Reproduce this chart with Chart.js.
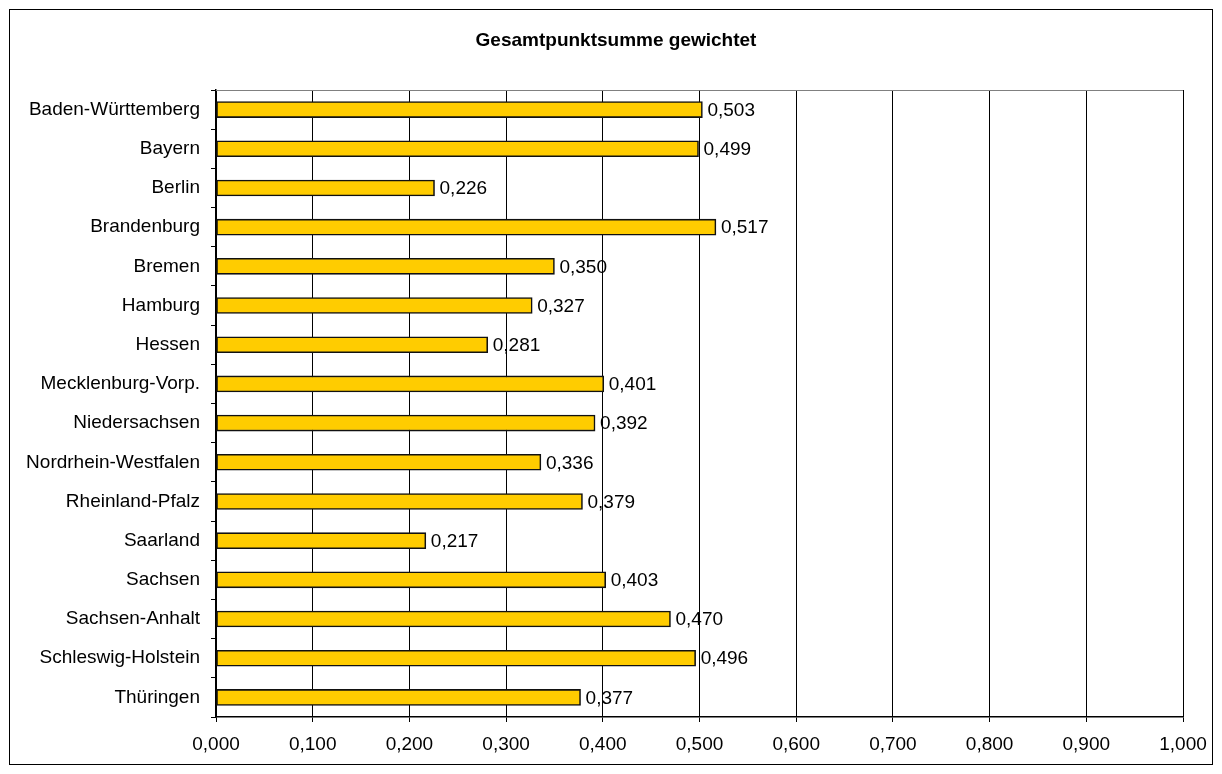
<!DOCTYPE html>
<html>
<head>
<meta charset="utf-8">
<script src="https://cdn.jsdelivr.net/npm/chart.js@4.4.0/dist/chart.umd.min.js"></script>
<style>
    body { margin: 0; background: #fff; }
    canvas { display: block; }
</style>
</head>
<body>
<canvas id="chart" width="1222" height="774"></canvas>
<script>
const chartTitle = 'Gesamtpunktsumme gewichtet';
const states = [
    'Baden-Württemberg', 'Bayern', 'Berlin', 'Brandenburg', 'Bremen', 'Hamburg',
    'Hessen', 'Mecklenburg-Vorp.', 'Niedersachsen', 'Nordrhein-Westfalen',
    'Rheinland-Pfalz', 'Saarland', 'Sachsen', 'Sachsen-Anhalt', 'Schleswig-Holstein', 'Thüringen'
];
const scores = [0.503, 0.499, 0.226, 0.517, 0.350, 0.327, 0.281, 0.401, 0.392, 0.336, 0.379, 0.217, 0.403, 0.470, 0.496, 0.377];
const axisMin = 0;
const axisMax = 1;
const axisStep = 0.1;

const FONT = 'Liberation Sans, Arial, sans-serif';

function fmt(v) {
    return v.toFixed(3).replace('.', ',');
}

// white page, outer frame, title, grey top edge of plot area, value labels
const framePlugin = {
    id: 'frame',
    beforeDraw(chart) {
        const ctx = chart.ctx;
        ctx.save();
        ctx.fillStyle = '#fff';
        ctx.fillRect(0, 0, chart.width, chart.height);
        ctx.strokeStyle = '#000';
        ctx.lineWidth = 1;
        ctx.strokeRect(9.5, 9.5, chart.width - 19, chart.height - 19);
        // title centred on the frame
        ctx.font = 'bold 19px ' + FONT;
        ctx.fillStyle = '#000';
        ctx.textAlign = 'center';
        ctx.textBaseline = 'middle';
        ctx.fillText(chartTitle, 616, 41);
        ctx.restore();
    },
    beforeDatasetsDraw(chart) {
        const ctx = chart.ctx;
        const a = chart.chartArea;
        ctx.save();
        ctx.strokeStyle = '#808080';
        ctx.lineWidth = 1;
        ctx.beginPath();
        ctx.moveTo(a.left, a.top + 0.5);
        ctx.lineTo(a.right, a.top + 0.5);
        ctx.stroke();
        ctx.restore();
    },
    afterDatasetsDraw(chart) {
        const ctx = chart.ctx;
        const meta = chart.getDatasetMeta(0);
        ctx.save();
        ctx.font = '19px ' + FONT;
        ctx.fillStyle = '#000';
        ctx.textAlign = 'left';
        ctx.textBaseline = 'middle';
        meta.data.forEach((bar, i) => {
            ctx.fillText(fmt(scores[i]), bar.x + 5, bar.y + 1);
        });
        ctx.restore();
    }
};

new Chart(document.getElementById('chart'), {
    type: 'bar',
    data: {
        labels: states,
        datasets: [{
            data: scores,
            backgroundColor: '#FFCC00',
            borderColor: '#111',
            borderWidth: 1.6,
            borderSkipped: false,
            barThickness: 16
        }]
    },
    options: {
        indexAxis: 'y',
        responsive: false,
        animation: false,
        layout: { padding: { left: 0, top: 90, right: 39, bottom: 0 } },
        plugins: {
            legend: { display: false },
            tooltip: { enabled: false },
            title: { display: false }
        },
        scales: {
            x: {
                min: axisMin,
                max: axisMax,
                afterFit: s => { s.height = 57; },
                ticks: {
                    stepSize: axisStep,
                    color: '#000',
                    padding: 11,
                    font: { family: FONT, size: 19 },
                    callback: v => fmt(v)
                },
                grid: { color: '#000', lineWidth: 1, tickLength: 5 },
                border: { color: '#000', width: 1.5 }
            },
            y: {
                afterFit: s => { s.width = 216; },
                ticks: {
                    color: '#000',
                    padding: 11,
                    font: { family: FONT, size: 19 }
                },
                grid: { drawOnChartArea: false, color: '#000', tickLength: 5, offset: true },
                border: { color: '#000', width: 1.5 }
            }
        }
    },
    plugins: [framePlugin]
});
</script>
</body>
</html>
